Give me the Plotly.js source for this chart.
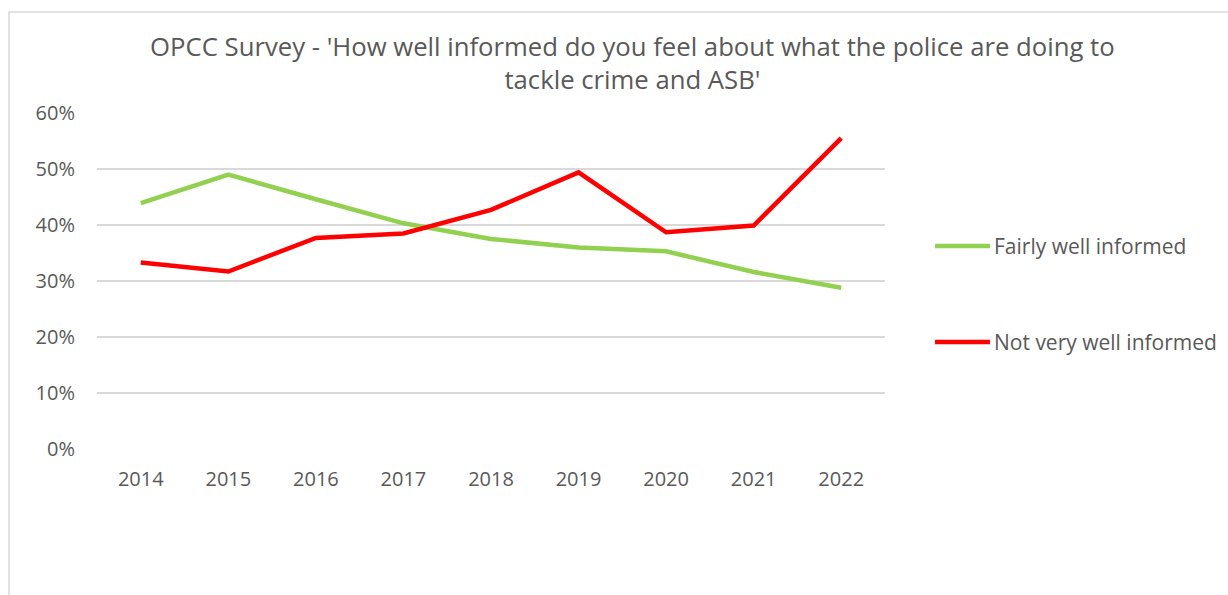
<!DOCTYPE html>
<html>
<head>
<meta charset="utf-8">
<script src="https://cdn.plot.ly/plotly-3.0.1.min.js"></script>
<style>html,body{margin:0;padding:0;background:#fff;}#chart{width:1228px;height:595px;}</style>
</head>
<body>
<div id="chart"></div>
<script>
const years = ['2014','2015','2016','2017','2018','2019','2020','2021','2022'];
const fairlyWell = [0.439, 0.490, 0.446, 0.403, 0.375, 0.360, 0.353, 0.316, 0.288];
const notVeryWell = [0.333, 0.317, 0.377, 0.385, 0.427, 0.494, 0.387, 0.399, 0.555];
const seriesNames = ['Fairly well informed', 'Not very well informed'];
const seriesColors = ['#92d050', '#ff0000'];
const yTicks = [0, 0.1, 0.2, 0.3, 0.4, 0.5, 0.6];
const yTickText = ['0%','10%','20%','30%','40%','50%','60%'];

const FONT = '"Open Sans", sans-serif';
const GREY = '#595959';

const seriesValues = [fairlyWell, notVeryWell];
const traces = seriesValues.map((vals, i) => ({
  x: years, y: vals, name: seriesNames[i], type: 'scatter', mode: 'lines',
  line: {color: seriesColors[i], width: 4.5}, showlegend: false
}));

// manual legend (longer line samples as in the reference)
const legendY = [0.604, 0.3185];
const shapes = [
  {type: 'rect', xref: 'paper', yref: 'paper', x0: -0.1117, x1: 2, y0: -2, y1: 1.3006,
   line: {color: '#d9d9d9', width: 1.5}, fillcolor: 'rgba(0,0,0,0)', layer: 'below'}
];
const annotations = [];
seriesNames.forEach((nm, i) => {
  shapes.push({type: 'line', xref: 'paper', yref: 'paper', x0: 1.0635, x1: 1.1332,
    y0: legendY[i], y1: legendY[i], line: {color: seriesColors[i], width: 4.5}});
  annotations.push({xref: 'paper', yref: 'paper', x: 1.136, y: legendY[i], xanchor: 'left',
    yanchor: 'middle', showarrow: false, text: nm,
    font: {family: FONT, size: 21, color: GREY}});
});

const layout = {
  width: 1228, height: 595,
  margin: {l: 97, r: 343, t: 113, b: 146},
  paper_bgcolor: '#ffffff', plot_bgcolor: '#ffffff',
  font: {family: FONT, color: GREY, size: 20},
  title: {
    text: "OPCC Survey - 'How well informed do you feel about what the police are doing to<br>tackle crime and ASB'",
    font: {family: FONT, size: 25.7, color: GREY},
    x: 0.515, xref: 'container', xanchor: 'center',
    y: 0.906, yref: 'container', yanchor: 'middle'
  },
  xaxis: {
    type: 'category', range: [-0.5, 8.5],
    showgrid: false, zeroline: false, showline: false, ticks: '',
    tickfont: {family: FONT, size: 20, color: GREY},
    ticklabelstandoff: 16, fixedrange: true
  },
  yaxis: {
    range: [0, 0.6], tickvals: yTicks, ticktext: yTickText,
    showgrid: true, gridcolor: '#d9d9d9', gridwidth: 1.5,
    zeroline: false, showline: false, ticks: '',
    tickfont: {family: FONT, size: 20, color: GREY},
    ticklabelstandoff: 21, fixedrange: true
  },
  showlegend: false,
  shapes: shapes,
  annotations: annotations
};

Plotly.newPlot('chart', traces, layout, {displayModeBar: false, staticPlot: true});
</script>
</body>
</html>
